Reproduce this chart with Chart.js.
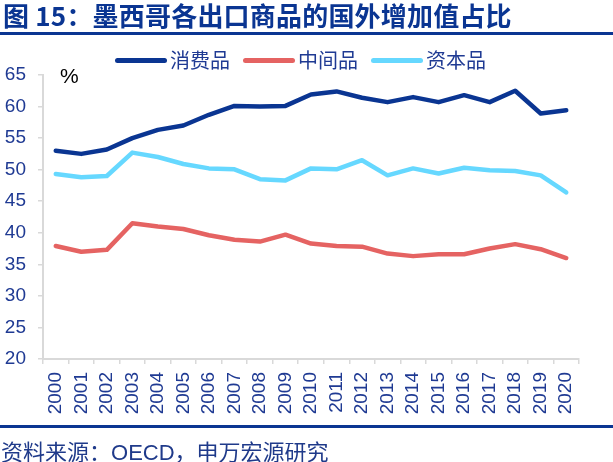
<!DOCTYPE html>
<html>
<head>
<meta charset="utf-8">
<script src="https://cdn.jsdelivr.net/npm/chart.js@4/dist/chart.umd.min.js"></script>
<style>
  html, body { margin:0; padding:0; background:#fff; }
  #wrap { position:relative; width:613px; height:462px; overflow:hidden; }
  #chart { position:absolute; left:0; top:0; }
  .title { position:absolute; left:3px; top:0px; font:bold 26px "Noto Sans CJK SC", sans-serif; letter-spacing:0.2px; color:#0a3592; line-height:30px; white-space:nowrap; }
  .rule { position:absolute; left:0; width:613px; height:3px; background:#0a3592; }
  .unit { position:absolute; left:60px; top:64px; font:21px "Liberation Sans", Arial, sans-serif; color:#000; }
  .legend { position:absolute; top:48px; left:115px; height:24px; display:flex; align-items:center; white-space:nowrap; font:20px/24px "Noto Sans CJK SC", sans-serif; color:#1f3a93; }
  .legend .item { display:flex; align-items:center; margin-right:13px; }
  .legend i { display:block; width:52px; height:5px; border-radius:3px; margin-right:3px; }
  .legend b { font-weight:normal; }
  .source { position:absolute; left:1px; top:437px; font:22px "Noto Sans CJK SC", sans-serif; color:#1f3a8a; line-height:26px; white-space:nowrap; }
  .source .lat { font-family:"Liberation Sans", Arial, sans-serif; }
</style>
</head>
<body>
<div id="wrap">
  <canvas id="chart" width="613" height="462"></canvas>
  <div class="title">图 15：墨西哥各出口商品的国外增加值占比</div>
  <div class="rule" style="top:32px"></div>
  <div class="legend" id="legend"></div>
  <div class="unit">%</div>
  <div class="rule" style="top:425px"></div>
  <div class="source">资料来源：<span class="lat">OECD</span>，申万宏源研究</div>
</div>
<script>
// 연도
var years = ["2000","2001","2002","2003","2004","2005","2006","2007","2008","2009","2010",
             "2011","2012","2013","2014","2015","2016","2017","2018","2019","2020"];

// 系列名称 / 颜色
var seriesNames  = ["消费品", "中间品", "资本品"];
var seriesColors = ["#0a3592", "#e56362", "#66d8ff"];

// 各系列数值 (%)
var consumerGoods     = [53.0, 52.5, 53.2, 55.0, 56.3, 57.0, 58.7, 60.1, 60.0, 60.1, 61.9,
                         62.4, 61.4, 60.7, 61.5, 60.7, 61.8, 60.7, 62.5, 58.9, 59.4];
var intermediateGoods = [37.9, 37.0, 37.3, 41.5, 41.0, 40.6, 39.6, 38.9, 38.6, 39.7, 38.3,
                         37.9, 37.8, 36.7, 36.3, 36.6, 36.6, 37.5, 38.2, 37.4, 36.0];
var capitalGoods      = [49.3, 48.8, 49.0, 52.7, 52.0, 50.9, 50.2, 50.05, 48.5, 48.3, 50.2,
                         50.05, 51.5, 49.1, 50.2, 49.4, 50.3, 49.9, 49.8, 49.1, 46.4];

// 축 범위
var yMin = 20, yMax = 65, yStep = 5;

var seriesValues = [consumerGoods, intermediateGoods, capitalGoods];

// 범례 (html)
var legendHtml = "";
for (var i = 0; i < seriesNames.length; i++) {
  legendHtml += '<span class="item"><i style="background:' + seriesColors[i] + '"></i><b>' + seriesNames[i] + '</b></span>';
}
document.getElementById("legend").innerHTML = legendHtml;

var axisColor = "#d9d9d9",
    tickColor = "#1f3a93",
    tickFont  = { family: '"Liberation Sans", Arial, sans-serif', size: 19 };

var datasets = seriesValues.map(function(vals, i){
  return {
    label: seriesNames[i],
    data: vals,
    borderColor: seriesColors[i],
    backgroundColor: seriesColors[i],
    borderWidth: 4.5,
    pointRadius: 0,
    tension: 0,
    borderCapStyle: "round",
    borderJoinStyle: "round",
    fill: false
  };
});

new Chart(document.getElementById("chart"), {
  type: "line",
  data: { labels: years, datasets: datasets },
  options: {
    responsive: false,
    animation: false,
    layout: { padding: { top: 75, right: 34, left: 0, bottom: 0 } },
    plugins: { legend: { display: false }, tooltip: { enabled: false } },
    scales: {
      x: {
        offset: true,
        grid: { offset: true, drawOnChartArea: false, color: axisColor, lineWidth: 1.5, tickLength: 5 },
        border: { display: true, color: axisColor, width: 2 },
        ticks: { color: tickColor, font: tickFont, minRotation: 90, maxRotation: 90, padding: 8, autoSkip: false },
        afterFit: function(s){ s.height = 103; }
      },
      y: {
        min: yMin, max: yMax,
        grid: { drawOnChartArea: false, color: axisColor, lineWidth: 1.5, tickLength: 5 },
        border: { display: true, color: axisColor, width: 2 },
        ticks: { stepSize: yStep, color: tickColor, font: tickFont, padding: 12 },
        afterFit: function(s){ s.width = 43; }
      }
    }
  }
});
</script>
</body>
</html>
